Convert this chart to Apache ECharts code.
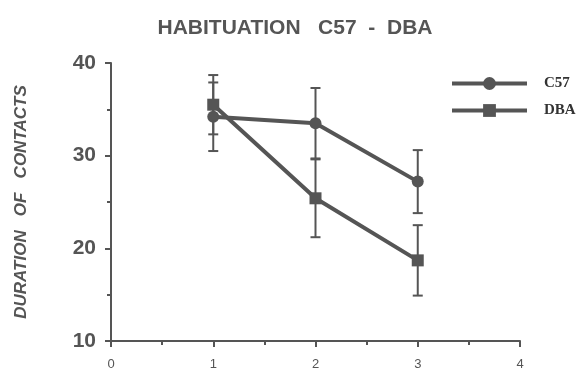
<!DOCTYPE html>
<html>
<head>
<meta charset="utf-8">
<script src="https://cdn.jsdelivr.net/npm/echarts@6/dist/echarts.min.js"></script>
<style>
  html, body { margin: 0; padding: 0; background: #fff; }
  #chart { width: 580px; height: 371px; }
</style>
</head>
<body>
<div id="chart"></div>
<script>
// habituation trials
const trials = [1, 2, 3]
const c57Mean = [34.2, 33.5, 27.2]
const c57Err = [3.7, 3.8, 3.4]
const dbaMean = [35.5, 25.4, 18.7]
const dbaErr = [3.2, 4.2, 3.8]

const ink = '#555'

function pairs(xs, ys) {
  return xs.map((x, i) => [x, ys[i]])
}

function errBars(xs, ys, es) {
  return xs.map((x, i) => [x, ys[i] - es[i], ys[i] + es[i]])
}

// vertical error bar with caps
function renderErr(params, api) {
  const lo = api.coord([api.value(0), api.value(1)])
  const hi = api.coord([api.value(0), api.value(2)])
  const w = 5
  const style = { stroke: ink, lineWidth: 2 }
  return {
    type: 'group',
    children: [
      { type: 'line', shape: { x1: lo[0], y1: lo[1], x2: hi[0], y2: hi[1] }, style: style },
      { type: 'line', shape: { x1: lo[0] - w, y1: lo[1], x2: lo[0] + w, y2: lo[1] }, style: style },
      { type: 'line', shape: { x1: hi[0] - w, y1: hi[1], x2: hi[0] + w, y2: hi[1] }, style: style }
    ]
  }
}

const chart = echarts.init(document.getElementById('chart'))

const option = {
  animation: false,
  title: {
    text: 'HABITUATION   C57  -  DBA',
    left: 290,
    textAlign: 'center',
    top: 13,
    textStyle: { fontFamily: 'Liberation Sans', fontWeight: 'bold', fontSize: 21, color: ink }
  },
  legend: {
    orient: 'vertical',
    left: 445,
    top: 71,
    itemWidth: 75,
    itemHeight: 16,
    itemGap: 12,
    lineStyle: { width: 4 },
    textStyle: { fontFamily: 'Liberation Serif', fontWeight: 'bold', fontSize: 15, color: '#333', padding: [0, 0, 0, 12] },
    data: ['C57', 'DBA']
  },
  grid: { left: 111, right: 60, top: 63, bottom: 28 },
  xAxis: {
    type: 'value',
    min: 0,
    max: 4,
    interval: 1,
    splitLine: { show: false },
    axisLine: { lineStyle: { color: ink, width: 2 } },
    axisTick: { length: 6, lineStyle: { color: ink, width: 2 } },
    minorTick: { show: true, splitNumber: 2, length: 4, lineStyle: { color: ink, width: 2 } },
    axisLabel: { fontFamily: 'Liberation Sans', fontSize: 13, color: ink, margin: 17 }
  },
  yAxis: {
    type: 'value',
    min: 10,
    max: 40,
    interval: 10,
    name: 'DURATION   OF   CONTACTS',
    nameLocation: 'middle',
    nameGap: 81,
    nameTextStyle: { fontFamily: 'Liberation Sans', fontStyle: 'italic', fontWeight: 'bold', fontSize: 17, color: ink },
    splitLine: { show: false },
    axisLine: { lineStyle: { color: ink, width: 2 } },
    axisTick: { length: 6, lineStyle: { color: ink, width: 2 } },
    minorTick: { show: true, splitNumber: 2, length: 4, lineStyle: { color: ink, width: 2 } },
    axisLabel: { fontFamily: 'Liberation Sans', fontWeight: 'bold', fontSize: 21, color: ink, margin: 15 }
  },
  series: [
    {
      type: 'custom',
      renderItem: renderErr,
      data: errBars(trials, c57Mean, c57Err),
      z: 1
    },
    {
      type: 'custom',
      renderItem: renderErr,
      data: errBars(trials, dbaMean, dbaErr),
      z: 1
    },
    {
      name: 'C57',
      type: 'line',
      data: pairs(trials, c57Mean),
      symbol: 'circle',
      symbolSize: 12,
      lineStyle: { color: ink, width: 4 },
      itemStyle: { color: ink },
      z: 3
    },
    {
      name: 'DBA',
      type: 'line',
      data: pairs(trials, dbaMean),
      symbol: 'rect',
      symbolSize: 12,
      lineStyle: { color: ink, width: 4 },
      itemStyle: { color: ink },
      z: 3
    }
  ]
}

chart.setOption(option)
</script>
</body>
</html>
